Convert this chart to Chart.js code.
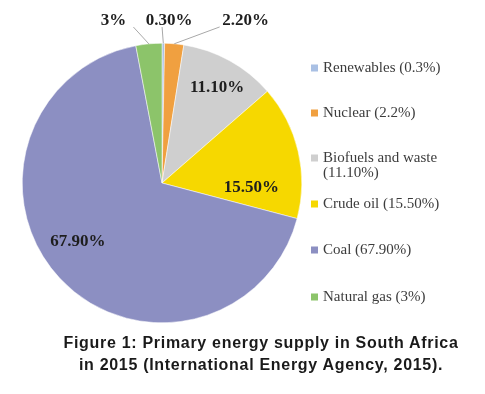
<!DOCTYPE html>
<html>
<head>
<meta charset="utf-8">
<script src="https://cdn.jsdelivr.net/npm/chart.js@4"></script>
<style>
  body { margin: 0; background: #fff; }
  #wrap { position: relative; width: 485px; height: 394px; }
  #caption {
    position: absolute; left: 20px; width: 482px; top: 332px;
    text-align: center; font: bold 16px "Liberation Sans", Arial, sans-serif;
    letter-spacing: 0.7px;
    color: #1a1a1a; line-height: 22px;
  }
</style>
</head>
<body>
<div id="wrap">
  <canvas id="myChart" width="485" height="394"></canvas>
  <div id="caption">Figure 1: Primary energy supply in South Africa<br>in 2015 (International Energy Agency, 2015).</div>
</div>
<script>
const ctx = document.getElementById('myChart');

const fuentes = ['Renewables (0.3%)', 'Nuclear (2.2%)', ['Biofuels and waste', '(11.10%)'], 'Crude oil (15.50%)', 'Coal (67.90%)', 'Natural gas (3%)'];
const valores = [0.3, 2.2, 11.1, 15.5, 67.9, 3];
const etiquetas = ['0.30%', '2.20%', '11.10%', '15.50%', '67.90%', '3%'];
const colores = ['#a9c0e4', '#f0a040', '#cfcfcf', '#f6d800', '#8c8fc2', '#8cc46a'];

// where each value label sits: angle from top (deg), distance as fraction of radius, leader line x offset
const posEtiquetas = [
  { ang: 2.5, f: 1.16, line: -7 },
  { ang: 27.3, f: 1.305, line: -26 },
  { ang: 30, f: 0.79 },
  { ang: 93, f: 0.64 },
  { ang: 235, f: 0.735 },
  { ang: 343.3, f: 1.21, line: 20 }
];

const etiquetasPlugin = {
  id: 'etiquetas',
  afterDatasetsDraw(chart) {
    const c = chart.ctx;
    const arcs = chart.getDatasetMeta(0).data;
    c.save();
    c.font = 'bold 17px "Liberation Serif", "Times New Roman", serif';
    c.textAlign = 'center';
    c.textBaseline = 'middle';
    arcs.forEach((arc, i) => {
      const p = posEtiquetas[i];
      const a = (p.ang - 90) * Math.PI / 180;
      const x = arc.x + Math.cos(a) * arc.outerRadius * p.f;
      const y = arc.y + Math.sin(a) * arc.outerRadius * p.f;
      if (p.line !== undefined) {
        const mid = (arc.startAngle + arc.endAngle) / 2;
        c.strokeStyle = '#a8a8a8';
        c.lineWidth = 1;
        c.beginPath();
        c.moveTo(x + p.line, y + 6);
        c.lineTo(arc.x + Math.cos(mid) * arc.outerRadius, arc.y + Math.sin(mid) * arc.outerRadius);
        c.stroke();
      }
      c.fillStyle = '#1e1e1e';
      c.fillText(etiquetas[i], x, y);
    });
    c.restore();
  }
};

const leyendaPlugin = {
  id: 'leyenda',
  afterDraw(chart) {
    const c = chart.ctx;
    const ys = [68, 113, 158, 204, 250, 297];
    c.save();
    c.font = '15px "Liberation Serif", "Times New Roman", serif';
    c.textBaseline = 'middle';
    c.textAlign = 'left';
    fuentes.forEach((txt, i) => {
      c.fillStyle = colores[i];
      c.fillRect(311, ys[i] - 3.5, 7, 7);
      c.fillStyle = '#3c3c3c';
      const lines = Array.isArray(txt) ? txt : [txt];
      lines.forEach((l, j) => c.fillText(l, 323, ys[i] + j * 15));
    });
    c.restore();
  }
};

new Chart(ctx, {
  type: 'pie',
  data: {
    labels: fuentes,
    datasets: [{
      data: valores,
      backgroundColor: colores,
      borderColor: '#ffffff',
      borderWidth: 0.5
    }]
  },
  options: {
    responsive: false,
    animation: false,
    layout: { padding: { left: 22, top: 43, right: 183, bottom: 71 } },
    plugins: {
      legend: { display: false },
      tooltip: { enabled: false }
    }
  },
  plugins: [etiquetasPlugin, leyendaPlugin]
});
</script>
</body>
</html>
